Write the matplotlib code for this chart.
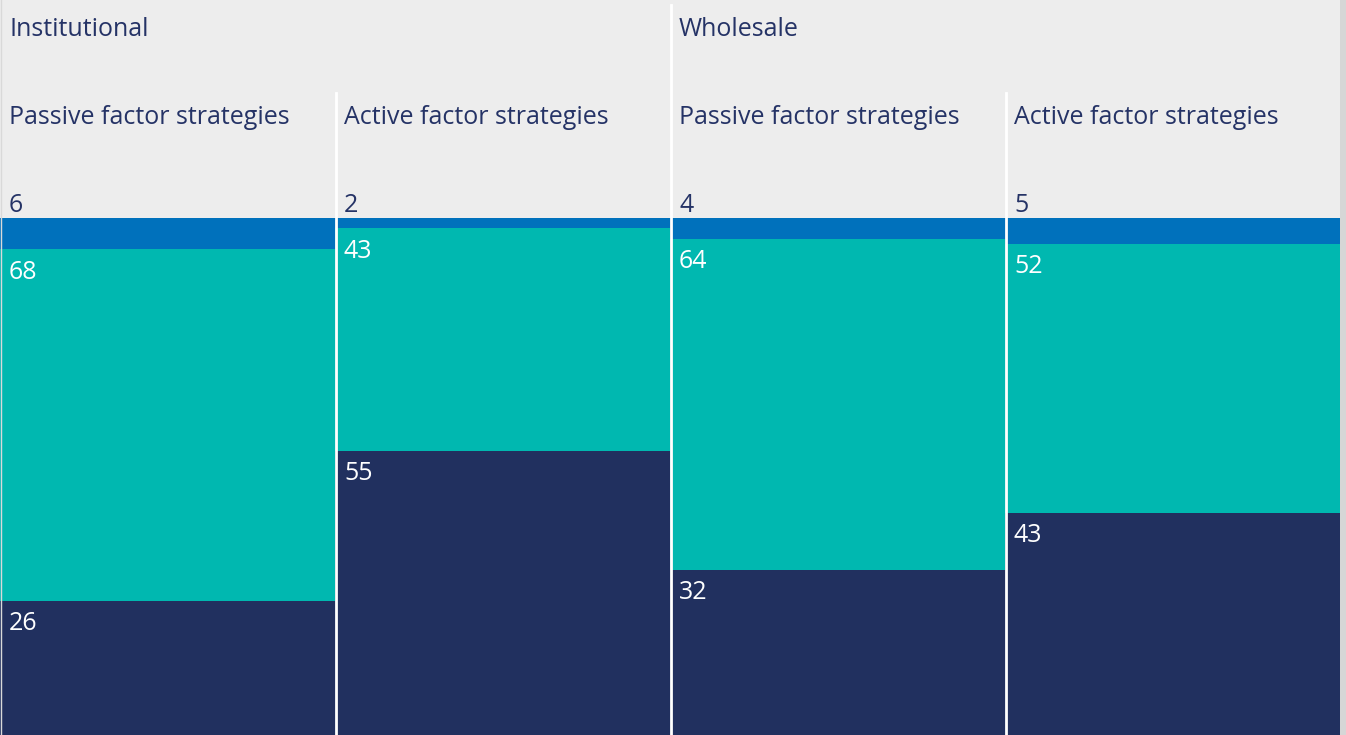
import matplotlib.pyplot as plt
from matplotlib.lines import Line2D
from matplotlib.patches import Rectangle

# -----------------------------
# Data
# -----------------------------
groups = ["Institutional", "Wholesale"]
categories = ["Passive factor strategies", "Active factor strategies",
              "Passive factor strategies", "Active factor strategies"]
top_vals = [6, 2, 4, 5]       # dark blue (top)
mid_vals = [68, 43, 64, 52]   # teal (middle)
low_vals = [26, 55, 32, 43]   # navy (bottom)

BLUE = "#0071bc"
TEAL = "#00b8b0"
NAVY = "#21305f"
TEXT = "#253366"
BG = "#ededed"

plt.rcParams['font.family'] = ['Open Sans', 'DejaVu Sans']

W, H = 1346, 735
fig = plt.figure(figsize=(W / 100, H / 100), dpi=100)
fig.patch.set_facecolor(BG)

# right strip
fig.add_artist(Rectangle((1340 / W, 0), 6 / W, 1, transform=fig.transFigure,
                         facecolor="#d6d6d6", edgecolor="none"))
fig.add_artist(Line2D([0.5 / W, 0.5 / W], [0, 1], transform=fig.transFigure,
                      color="#d9d9d9", lw=1))

bar_top = (H - 218) / H
ax = fig.add_axes([0, 0, 1340 / W, bar_top])
ax.set_facecolor(BG)
n = len(categories)
x = list(range(n))

ax.bar(x, low_vals, width=1, align="edge", color=NAVY, linewidth=0)
ax.bar(x, mid_vals, width=1, align="edge", bottom=low_vals, color=TEAL, linewidth=0)
bottoms = [a + b for a, b in zip(low_vals, mid_vals)]
ax.bar(x, top_vals, width=1, align="edge", bottom=bottoms, color=BLUE, linewidth=0)
ax.set_xlim(0, n)
ax.set_ylim(0, 100)
ax.axis("off")

col_w = 335 / W
fs = 18
for i in range(n):
    x0 = i * col_w + 9 / W
    # category header
    fig.text(x0, 1 - 117 / H, categories[i], color=TEXT, fontsize=fs,
             va="center", ha="left")
    # top value label above bar
    fig.text(x0, 1 - 205 / H, str(top_vals[i]), color=TEXT, fontsize=fs,
             va="center", ha="left")
    # labels inside segments
    ax.annotate(str(mid_vals[i]), (i, bottoms[i]), xytext=(9, -23),
                textcoords="offset pixels", color="white", fontsize=fs,
                va="center", ha="left")
    ax.annotate(str(low_vals[i]), (i, low_vals[i]), xytext=(9, -23),
                textcoords="offset pixels", color="white", fontsize=fs,
                va="center", ha="left")

for g, name in enumerate(groups):
    fig.text(g * 2 * col_w + 9 / W, 1 - 29 / H, name, color=TEXT, fontsize=fs,
             va="center", ha="left")

# white separators
for i in range(1, n):
    xs = (i * 335 + 0.5) / W
    ytop = 1 - 5 / H if i == 2 else 1 - 93 / H
    fig.add_artist(Line2D([xs, xs], [0, ytop], transform=fig.transFigure,
                          color="white", lw=2))

fig.savefig("out.png", dpi=100, facecolor=BG)
